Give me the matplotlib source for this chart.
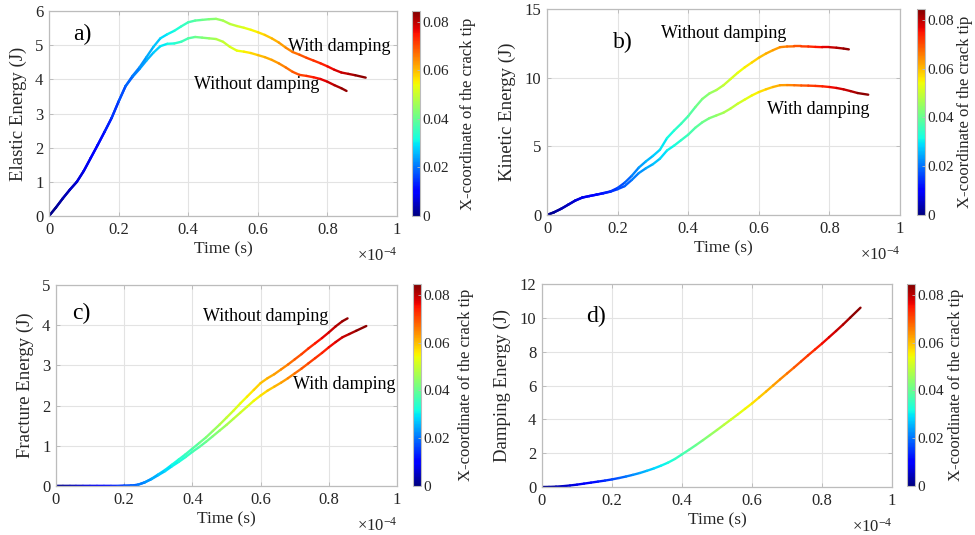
import numpy as np
import matplotlib
matplotlib.use('Agg')
import matplotlib.pyplot as plt
from matplotlib.collections import LineCollection
from matplotlib.colors import Normalize
from matplotlib.cm import ScalarMappable

plt.rcParams['font.family'] = ['Liberation Serif', 'DejaVu Serif']
plt.rcParams['mathtext.fontset'] = 'custom'
plt.rcParams['mathtext.rm'] = 'Liberation Serif'
plt.rcParams['mathtext.it'] = 'Liberation Serif:italic'

# ---------------- data (time in units of 1e-4 s) ----------------
t_nd = [0.00, 0.02, 0.04, 0.06, 0.08, 0.10, 0.12, 0.14, 0.16, 0.18, 0.20,
        0.22, 0.24, 0.26, 0.28, 0.30, 0.32, 0.34, 0.36, 0.38, 0.40, 0.42,
        0.44, 0.46, 0.48, 0.50, 0.52, 0.54, 0.56, 0.58, 0.60, 0.62, 0.64,
        0.66, 0.68, 0.70, 0.72, 0.74, 0.76, 0.78, 0.80, 0.82, 0.84, 0.855]
t_wd = [0.00, 0.02, 0.04, 0.06, 0.08, 0.10, 0.12, 0.14, 0.16, 0.18, 0.20,
        0.22, 0.24, 0.26, 0.28, 0.30, 0.32, 0.34, 0.36, 0.38, 0.40, 0.42,
        0.44, 0.46, 0.48, 0.50, 0.52, 0.54, 0.56, 0.58, 0.60, 0.62, 0.64,
        0.66, 0.68, 0.70, 0.72, 0.74, 0.76, 0.78, 0.80, 0.82, 0.84, 0.86,
        0.88, 0.91]

# crack tip x-coordinate
crack_nd = [0, .002, .003, .005, .006, .008, .009, .011, .012, .014, .016,
            .018, .020, .023, .025, .027, .029, .031, .033, .035, .037, .040,
            .042, .044, .047, .049, .051, .053, .055, .057, .059, .061, .062,
            .064, .066, .068, .070, .072, .074, .076, .078, .080, .082, .084]
crack_wd = [0, .002, .003, .005, .006, .008, .009, .011, .012, .014, .016,
            .018, .020, .022, .024, .026, .028, .030, .032, .034, .036, .038,
            .040, .042, .044, .046, .048, .050, .052, .054, .056, .058, .060,
            .062, .064, .066, .068, .070, .072, .073, .075, .077, .079, .080,
            .082, .0845]

elastic_nd = [0, .25, .52, .77, 1.0, 1.32, 1.7, 2.08, 2.47, 2.87, 3.35,
              3.8, 4.07, 4.3, 4.55, 4.78, 4.97, 5.04, 5.05, 5.1, 5.2, 5.24,
              5.22, 5.2, 5.18, 5.1, 4.95, 4.84, 4.81, 4.77, 4.71, 4.65, 4.57,
              4.47, 4.35, 4.22, 4.13, 4.1, 4.06, 4.01, 3.93, 3.83, 3.74, 3.66]
elastic_wd = [0, .25, .52, .77, 1.0, 1.32, 1.7, 2.08, 2.47, 2.87, 3.35,
              3.8, 4.1, 4.35, 4.65, 4.95, 5.2, 5.32, 5.42, 5.55, 5.67, 5.72,
              5.74, 5.76, 5.77, 5.72, 5.62, 5.56, 5.51, 5.45, 5.38, 5.3, 5.2,
              5.08, 4.93, 4.8, 4.72, 4.63, 4.55, 4.47, 4.38, 4.28, 4.2, 4.16,
              4.12, 4.05]

kinetic_nd = [0, .2, .45, .75, 1.05, 1.27, 1.38, 1.48, 1.6, 1.72, 1.97,
              2.35, 2.85, 3.45, 3.9, 4.3, 4.75, 5.6, 6.15, 6.65, 7.2, 7.85,
              8.45, 8.85, 9.1, 9.45, 9.9, 10.35, 10.75, 11.1, 11.45, 11.75, 12.0,
              12.22, 12.27, 12.28, 12.28, 12.27, 12.24, 12.22, 12.22, 12.18, 12.12, 12.06]
kinetic_wd = [0, .2, .45, .75, 1.05, 1.27, 1.38, 1.48, 1.58, 1.7, 1.88,
              2.1, 2.55, 3.05, 3.4, 3.7, 4.1, 4.7, 5.05, 5.45, 5.85, 6.35,
              6.75, 7.05, 7.25, 7.45, 7.75, 8.1, 8.4, 8.7, 8.95, 9.15, 9.32,
              9.45, 9.46, 9.45, 9.43, 9.42, 9.4, 9.37, 9.32, 9.25, 9.15, 9.02,
              8.88, 8.76]

fracture_nd = [0, 0, 0, 0, 0, 0, 0, 0, 0, 0, .005,
               .01, .03, .09, .18, .29, .4, .53, .66, .79, .93, 1.07,
               1.21, 1.37, 1.53, 1.7, 1.87, 2.05, 2.22, 2.39, 2.56, 2.68, 2.78,
               2.9, 3.02, 3.15, 3.28, 3.42, 3.55, 3.68, 3.82, 3.97, 4.1, 4.17]
fracture_wd = [0, 0, 0, 0, 0, 0, 0, 0, 0, 0, .005,
               .01, .03, .09, .17, .27, .37, .49, .6, .72, .85, .97,
               1.1, 1.24, 1.38, 1.52, 1.67, 1.82, 1.97, 2.12, 2.25, 2.37, 2.47,
               2.57, 2.68, 2.8, 2.92, 3.05, 3.18, 3.31, 3.45, 3.58, 3.7, 3.78,
               3.86, 3.98]

damping_wd = [0, .005, .02, .05, .09, .14, .2, .26, .32, .38, .45,
              .53, .62, .72, .83, .96, 1.1, 1.26, 1.44, 1.66, 1.93, 2.2,
              2.48, 2.77, 3.07, 3.37, 3.68, 3.99, 4.3, 4.62, 4.94, 5.29, 5.64,
              6.0, 6.36, 6.71, 7.06, 7.42, 7.78, 8.13, 8.48, 8.85, 9.22, 9.6,
              10.0, 10.6]

x_ticks = [0, 0.2, 0.4, 0.6, 0.8, 1]
x_ticklabels = ['0', '0.2', '0.4', '0.6', '0.8', '1']
cb_ticks = [0, 0.02, 0.04, 0.06, 0.08]
cb_ticklabels = ['0', '0.02', '0.04', '0.06', '0.08']
cb_max = 0.0845

# ---------------- figure ----------------
W, H = 975, 535
fig = plt.figure(figsize=(W / 100, H / 100), dpi=100)


def rect(l, r, t, b):
    return [l / W, 1 - b / H, (r - l) / W, (b - t) / H]


norm = Normalize(0, cb_max)
cmap = plt.get_cmap('jet')
SPINE = '#bcbcbc'
TXT = '#262626'


def colored_line(ax, t, y, c):
    pts = np.column_stack([t, y])
    segs = np.stack([pts[:-1], pts[1:]], axis=1)
    c = np.asarray(c)
    cv = (c[:-1] + c[1:]) / 2
    lc = LineCollection(segs, cmap=cmap, norm=norm, linewidths=1.7,
                        capstyle='round', joinstyle='round')
    lc.set_array(cv)
    ax.add_collection(lc)


panels = [
    dict(ax=(49, 397, 11, 216), cb=(412, 420, 11, 216), cblab_x=468, ylim=6, yticks=[0, 1, 2, 3, 4, 5, 6],
         ylabel='Elastic Energy (J)', letter='a)', lpos=(0.069, 5.32),
         curves=[(t_nd, elastic_nd, crack_nd), (t_wd, elastic_wd, crack_wd)],
         notes=[('With damping', 0.686, 4.97), ('Without damping', 0.418, 3.85)]),
    dict(ax=(547, 900, 9, 215), cb=(917, 925, 9, 215), cblab_x=965, ylim=15, yticks=[0, 5, 10, 15],
         ylabel='Kinetic Energy (J)', letter='b)', lpos=(0.186, 12.6),
         curves=[(t_nd, kinetic_nd, crack_nd), (t_wd, kinetic_wd, crack_wd)],
         notes=[('Without damping', 0.324, 13.19), ('With damping', 0.623, 7.67)]),
    dict(ax=(56, 397, 285, 486), cb=(413, 421, 284, 486), cblab_x=466, ylim=5, yticks=[0, 1, 2, 3, 4, 5],
         ylabel='Fracture Energy (J)', letter='c)', lpos=(0.047, 4.28),
         curves=[(t_nd, fracture_nd, crack_nd), (t_wd, fracture_wd, crack_wd)],
         notes=[('Without damping', 0.43, 4.21), ('With damping', 0.694, 2.52)]),
    dict(ax=(542, 892, 284, 487), cb=(907, 915, 284, 486), cblab_x=956, ylim=12, yticks=[0, 2, 4, 6, 8, 10, 12],
         ylabel='Damping Energy (J)', letter='d)', lpos=(0.126, 10.1),
         curves=[(t_wd, damping_wd, crack_wd)],
         notes=[]),
]

for p in panels:
    ax = fig.add_axes(rect(*p['ax']))
    for t, y, c in p['curves']:
        colored_line(ax, t, y, c)
    ax.set_xlim(0, 1)
    ax.set_ylim(0, p['ylim'])
    ax.set_xticks(x_ticks)
    ax.set_xticklabels(x_ticklabels)
    ax.set_yticks(p['yticks'])
    ax.set_yticklabels([str(v) for v in p['yticks']])
    ax.grid(True, color='#e3e3e3', linewidth=0.8)
    ax.set_axisbelow(True)
    for s in ax.spines.values():
        s.set_color(SPINE)
        s.set_linewidth(0.9)
    ax.tick_params(direction='in', length=3, width=0.7, color=SPINE,
                   labelcolor=TXT, labelsize=12, pad=4,
                   top=True, right=True)
    ax.set_xlabel('Time (s)', fontsize=12.5, color=TXT, labelpad=3)
    ax.set_ylabel(p['ylabel'], fontsize=13.5, color=TXT, labelpad=6)
    ax.text(p['lpos'][0], p['lpos'][1], p['letter'], fontsize=17,
            ha='left', va='center', color='black')
    for txt, x, y in p['notes']:
        ax.text(x, y, txt, fontsize=13, ha='left', va='center', color='black')
    ax.annotate(r'$\mathregular{\times10^{-4}}$', xy=(1, 0), xycoords='axes fraction',
                xytext=(0, -40), textcoords='offset pixels', ha='right', va='center',
                fontsize=12, color=TXT)

    cax = fig.add_axes(rect(*p['cb']))
    cb = fig.colorbar(ScalarMappable(norm=norm, cmap=cmap), cax=cax)
    cb.set_ticks(cb_ticks)
    cb.set_ticklabels(cb_ticklabels)
    cb.outline.set_edgecolor(SPINE)
    cb.outline.set_linewidth(0.8)
    cax.tick_params(direction='in', length=2, width=0.6, color=SPINE,
                    labelcolor=TXT, labelsize=11, pad=2)
    l, r, t, b = p['cb']
    fig.text(p['cblab_x'] / W, 1 - (t + b) / 2 / H, 'X-coordinate of the crack tip',
             rotation=90, ha='center', va='center', fontsize=12, color=TXT)

fig.savefig('out.png', dpi=100)
